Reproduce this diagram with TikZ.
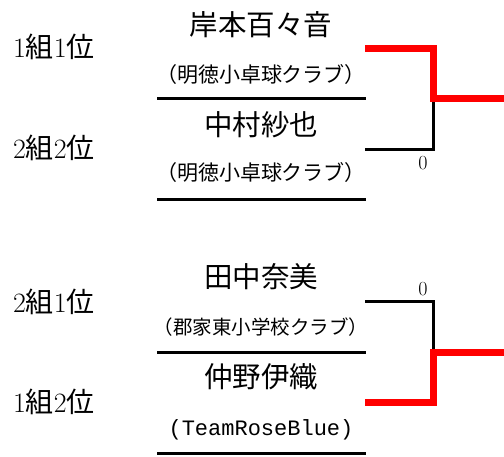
\documentclass[tikz,border=0pt]{standalone}
\usepackage{fontspec}
\newfontfamily\cjk{Noto Sans CJK JP}
\newfontfamily\mono{Liberation Mono}
\usetikzlibrary{positioning}

\begin{document}
\begin{tikzpicture}[x=1pt, y=-1pt,
    player/.style = {font=\cjk\fontsize{28.5}{28.5}\selectfont, inner sep=0pt},
    club/.style = {font=\cjk\fontsize{21}{21}\selectfont, inner sep=0pt},
    rank/.style = {font=\fontsize{28}{28}\selectfont, inner sep=0pt},
    score/.style = {font=\fontsize{20}{20}\selectfont, inner sep=0pt},
    lost/.style = {line width=3pt, line join=miter},
    won/.style = {line width=7pt, red, line join=miter}]
    \useasboundingbox (0,0) rectangle (504,457);

    % players and clubs
    \node[player] (n1) at (261,25) {岸本百々音};
    \node[club, below = 50pt of n1.center, anchor=center] (c1) {（明徳小卓球クラブ）};
    \node[player] (n2) at (261,125) {中村紗也};
    \node[club, below = 48pt of n2.center, anchor=center] (c2) {（明徳小卓球クラブ）};
    \node[player] (n3) at (261,277) {田中奈美};
    \node[club, font=\cjk\fontsize{19.5}{19.5}\selectfont, below = 50pt of n3.center, anchor=center] (c3) {（郡家東小学校クラブ）};
    \node[player] (n4) at (261,377) {仲野伊織};
    \node[club, font=\mono\fontsize{22}{22}\selectfont, below = 53pt of n4.center, anchor=center] (c4) {(TeamRoseBlue)};

    % ranks
    \node[rank] (r1) at (54,47) {1{\cjk 組}1{\cjk 位}};
    \node[rank] (r2) at (54,148) {2{\cjk 組}2{\cjk 位}};
    \node[rank] (r3) at (54,302) {2{\cjk 組}1{\cjk 位}};
    \node[rank] (r4) at (54,402) {1{\cjk 組}2{\cjk 位}};

    % underlines
    \foreach \y in {99,200,353,453}
      \draw[line width=3pt] (157,\y) -- (366,\y);

    % bracket
    \coordinate (p1) at (365,48.5);
    \coordinate (p2) at (365,150);
    \coordinate (p3) at (365,302);
    \coordinate (p4) at (365,403);
    \coordinate (j1) at (433,98.5);
    \coordinate (j2) at (433,353);
    \coordinate (o1) at (504,98.5);
    \coordinate (o2) at (504,353);

    \draw[lost] (p2) -| (j1);
    \draw[lost] (p3) -| (j2);
    \draw[won] (p1) -| (j1) -- (o1);
    \draw[won] (p4) -| (j2) -- (o2);

    \node[score] (s1) at (423,163) {0};
    \node[score] (s2) at (423,289) {0};
  \end{tikzpicture}
\end{document}
